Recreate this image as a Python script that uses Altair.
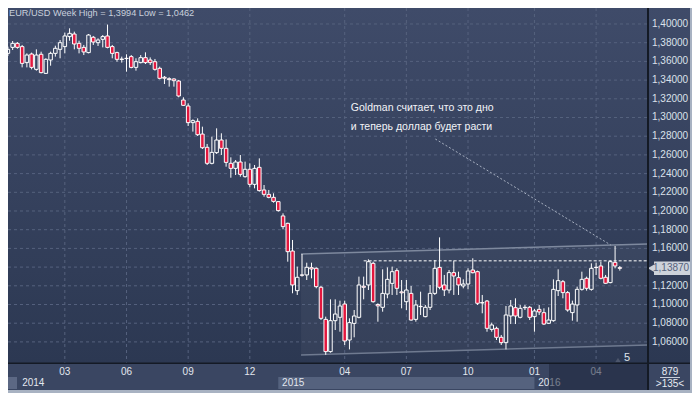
import altair as alt
import pandas as pd

# ---------------- data ----------------
bar_index = list(range(130))
open_ = [1.3686, 1.3750, 1.3793, 1.3758, 1.3587, 1.3679, 1.3515, 1.3676, 1.3472, 1.3615,
         1.3686, 1.3729, 1.3758, 1.3865, 1.3893, 1.3793, 1.3750, 1.3694, 1.3858, 1.3800,
         1.3836, 1.3872, 1.3758, 1.3694, 1.3625, 1.3633, 1.3651, 1.3536, 1.3587, 1.3640,
         1.3615, 1.3597, 1.3526, 1.3430, 1.3415, 1.3412, 1.3390, 1.3187, 1.3123, 1.2945,
         1.2959, 1.2823, 1.2681, 1.2510, 1.2624, 1.2759, 1.2670, 1.2510, 1.2456, 1.2524,
         1.2367, 1.2446, 1.2285, 1.2467, 1.2225, 1.2178, 1.2146, 1.2100, 1.1947, 1.1868,
         1.1572, 1.1148, 1.1316, 1.1316, 1.1394, 1.1387, 1.1184, 1.0841, 1.0496, 1.0827,
         1.0863, 1.1005, 1.0620, 1.0798, 1.0863, 1.1195, 1.1209, 1.1440, 1.1000, 1.0970,
         1.1112, 1.1226, 1.1362, 1.1135, 1.1030, 1.1119, 1.0841, 1.0980, 1.0870, 1.0970,
         1.1119, 1.1397, 1.1209, 1.1155, 1.1341, 1.1287, 1.1198, 1.1219, 1.1369, 1.1351,
         1.1020, 1.1037, 1.0734, 1.0745, 1.0649, 1.0592, 1.0877, 1.0966, 1.0863, 1.0970,
         1.0970, 1.0870, 1.0948, 1.0913, 1.0799, 1.0827, 1.1148, 1.1244, 1.1127, 1.0913,
         1.0995, 1.1162, 1.1280, 1.1162, 1.1398, 1.1412, 1.1291, 1.1234, 1.1451, 1.1394]
high = [1.3758, 1.3818, 1.3807, 1.3776, 1.3686, 1.3694, 1.3729, 1.3704, 1.3633, 1.3704,
        1.3768, 1.3829, 1.3907, 1.3954, 1.3918, 1.3821, 1.3776, 1.3893, 1.3872, 1.3847,
        1.3882, 1.3994, 1.3776, 1.3704, 1.3651, 1.3676, 1.3668, 1.3633, 1.3668, 1.3697,
        1.3643, 1.3626, 1.3544, 1.3444, 1.3430, 1.3419, 1.3401, 1.3216, 1.3152, 1.2980,
        1.2991, 1.2902, 1.2717, 1.2795, 1.2884, 1.2831, 1.2766, 1.2574, 1.2545, 1.2599,
        1.2528, 1.2510, 1.2492, 1.2563, 1.2278, 1.2225, 1.2189, 1.2107, 1.1975, 1.1875,
        1.1690, 1.1405, 1.1540, 1.1447, 1.1447, 1.1397, 1.1198, 1.0870, 1.1055, 1.1055,
        1.1041, 1.1041, 1.0852, 1.0941, 1.1298, 1.1298, 1.1483, 1.1458, 1.1013, 1.1376,
        1.1397, 1.1405, 1.1387, 1.1262, 1.1262, 1.1198, 1.1048, 1.1137, 1.0995, 1.1209,
        1.1476, 1.1718, 1.1316, 1.1369, 1.1469, 1.1351, 1.1269, 1.1387, 1.1494, 1.1362,
        1.1102, 1.1048, 1.0806, 1.0763, 1.0674, 1.0984, 1.1048, 1.1066, 1.0995, 1.0995,
        1.0984, 1.0952, 1.0995, 1.0959, 1.0970, 1.1269, 1.1376, 1.1262, 1.1144, 1.1041,
        1.1191, 1.1351, 1.1298, 1.1440, 1.1447, 1.1458, 1.1316, 1.1469, 1.1626, 1.1412]
low = [1.3658, 1.3722, 1.3736, 1.3536, 1.3536, 1.3515, 1.3501, 1.3472, 1.3465, 1.3554,
       1.3651, 1.3633, 1.3686, 1.3821, 1.3729, 1.3686, 1.3668, 1.3686, 1.3776, 1.3765,
       1.3750, 1.3740, 1.3633, 1.3597, 1.3587, 1.3490, 1.3526, 1.3501, 1.3579, 1.3572,
       1.3561, 1.3501, 1.3408, 1.3358, 1.3330, 1.3330, 1.3216, 1.3123, 1.2909, 1.2849,
       1.2802, 1.2663, 1.2492, 1.2499, 1.2610, 1.2599, 1.2474, 1.2356, 1.2385, 1.2367,
       1.2357, 1.2253, 1.2242, 1.2207, 1.2153, 1.2136, 1.2089, 1.1993, 1.1804, 1.1458,
       1.1120, 1.1102, 1.1298, 1.1262, 1.1280, 1.1173, 1.0834, 1.0462, 1.0485, 1.0727,
       1.0709, 1.0567, 1.0520, 1.0649, 1.0852, 1.1055, 1.1155, 1.1020, 1.0816, 1.0923,
       1.1066, 1.1102, 1.1102, 1.0959, 1.0941, 1.0827, 1.0816, 1.0888, 1.0863, 1.0941,
       1.1102, 1.1163, 1.1091, 1.1119, 1.1102, 1.1102, 1.1173, 1.1162, 1.1333, 1.0995,
       1.0906, 1.0709, 1.0709, 1.0620, 1.0567, 1.0520, 1.0791, 1.0791, 1.0852, 1.0941,
       1.0834, 1.0709, 1.0888, 1.0781, 1.0791, 1.0816, 1.1091, 1.1066, 1.0923, 1.0827,
       1.0816, 1.1148, 1.1148, 1.1148, 1.1316, 1.1269, 1.1219, 1.1227, 1.1387, 1.1362]
close = [1.3729, 1.3793, 1.3750, 1.3579, 1.3668, 1.3536, 1.3668, 1.3480, 1.3622, 1.3686,
         1.3740, 1.3800, 1.3872, 1.3900, 1.3786, 1.3740, 1.3701, 1.3882, 1.3807, 1.3829,
         1.3865, 1.3750, 1.3686, 1.3622, 1.3620, 1.3630, 1.3536, 1.3597, 1.3640, 1.3587,
         1.3587, 1.3515, 1.3419, 1.3420, 1.3405, 1.3394, 1.3230, 1.3130, 1.2945, 1.2966,
         1.2816, 1.2677, 1.2510, 1.2627, 1.2759, 1.2670, 1.2520, 1.2456, 1.2524, 1.2392,
         1.2446, 1.2285, 1.2456, 1.2218, 1.2178, 1.2146, 1.2103, 1.2004, 1.1833, 1.1565,
         1.1209, 1.1291, 1.1313, 1.1398, 1.1380, 1.1191, 1.0852, 1.0496, 1.0827, 1.0898,
         1.0984, 1.0610, 1.0806, 1.0877, 1.1209, 1.1184, 1.1458, 1.1030, 1.0985, 1.1119,
         1.1269, 1.1351, 1.1173, 1.1125, 1.1155, 1.0834, 1.0995, 1.0977, 1.0970, 1.1119,
         1.1387, 1.1184, 1.1155, 1.1341, 1.1305, 1.1209, 1.1219, 1.1358, 1.1340, 1.1013,
         1.1017, 1.0745, 1.0781, 1.0649, 1.0592, 1.0888, 1.0984, 1.0877, 1.0959, 1.0966,
         1.0863, 1.0931, 1.0920, 1.0791, 1.0834, 1.1162, 1.1255, 1.1127, 1.0941, 1.1005,
         1.1162, 1.1269, 1.1173, 1.1387, 1.1395, 1.1280, 1.1227, 1.1458, 1.1412, 1.1387]

price_ticks = [1.06, 1.08, 1.10, 1.12, 1.14, 1.16, 1.18, 1.20, 1.22, 1.24, 1.26,
               1.28, 1.30, 1.32, 1.34, 1.36, 1.38, 1.40]
label_ticks = [t for t in price_ticks if abs(t - 1.14) > 1e-9]
month_pos = [12, 25, 38, 51, 71, 84, 97, 111, 124]
month_lab = ["03", "06", "09", "12", "04", "07", "10", "01", "04"]
year_pos = [3.0, 57.8, 111.8]
year_lab = ["2014", "2015", "2016"]
year_thumb = [57, 111]
channel_k = [61.8, 134.9]
channel_hi = [1.1540, 1.1647]
channel_lo = [1.0460, 1.0567]
resistance = 1.1467
resistance_k = [75.0, 134.9]
pointer_k = [90.1, 127.1]
pointer_p = [1.2770, 1.1636]
note_lines = ["Goldman считает, что это дно", "и теперь доллар будет расти"]
note_k = [72.3, 72.3]
note_p = [1.3102, 1.2898]
last_price = 1.1387
title_text = "EUR/USD Week High = 1,3994 Low = 1,0462"
counter_top = "879"
counter_bottom = ">135<"
marker_text = "5"

# ---------------- layout ----------------
W, H = 640, 355          # plot area
RW = 44                  # right price panel
TW = W + RW              # total width (fits the 684px page body)
FONT = "Liberation Sans"
XS = alt.Scale(domain=[0.02, 134.94], nice=False, zero=False)
YS = alt.Scale(domain=[1.03743, 1.41711], nice=False, zero=False)


def X(f):
    return alt.X(f, type="quantitative", scale=XS, axis=None)


def Y(f):
    return alt.Y(f, type="quantitative", scale=YS, axis=None)


one = pd.DataFrame({"z": [0]})


def box(x1, x2, y1, y2, **kw):
    return alt.Chart(one).mark_rect(**kw).encode(
        x=alt.value(x1), x2=alt.value(x2), y=alt.value(y1), y2=alt.value(y2))


def label(txt, x, y, **kw):
    return alt.Chart(one).mark_text(text=txt, font=FONT, **kw).encode(
        x=alt.value(x), y=alt.value(y))


bg = box(0, TW, 0, H, fill=alt.Gradient(
    gradient="linear",
    stops=[alt.GradientStop(color="#3f4b69", offset=0),
           alt.GradientStop(color="#2c3852", offset=1)],
    x1=0, x2=0, y1=0, y2=1))
bottom_panel = box(0, TW, H, 385, fill="#3a4662")

chan = pd.DataFrame({"k": channel_k, "hi": channel_hi, "lo": channel_lo})
chan_fill = alt.Chart(chan).mark_area(fill="white", fillOpacity=0.045).encode(
    x=X("k"), y=Y("hi"), y2="lo")
chan_hi = alt.Chart(chan).mark_line(color="#7e899e", strokeWidth=1.5).encode(x=X("k"), y=Y("hi"))
chan_lo = alt.Chart(chan).mark_line(color="#6f7a90", strokeWidth=1.5).encode(x=X("k"), y=Y("lo"))

vgrid = alt.Chart(pd.DataFrame({"k": month_pos})).mark_rule(
    color="#56627e", strokeDash=[3, 3], strokeWidth=1).encode(
    x=X("k"), y=alt.value(0), y2=alt.value(H))

hgrid = alt.Chart(pd.DataFrame({"p": price_ticks})).mark_rule(
    color="#56627e", strokeDash=[3, 3], strokeWidth=1).encode(
    y=Y("p"), x=alt.value(0), x2=alt.value(W))

ylabels = alt.Chart(pd.DataFrame({"p": label_ticks})).transform_calculate(
    t="replace(format(datum.p, '.5f'), '.', ',')").mark_text(
    align="left", baseline="middle", color="#dbe1ea", font=FONT, fontSize=10).encode(
    x=alt.value(W + 4), y=Y("p"), text="t:N")

res = alt.Chart(pd.DataFrame({"k1": [resistance_k[0]], "k2": [resistance_k[1]], "p": [resistance]})).mark_rule(
    color="white", strokeDash=[3, 2], strokeWidth=1).encode(x=X("k1"), x2="k2", y=Y("p"))

pointer = alt.Chart(pd.DataFrame({"k": pointer_k, "p": pointer_p})).mark_line(
    color="#a6afc0", strokeDash=[2, 2], strokeWidth=1).encode(x=X("k"), y=Y("p"))

cdf = pd.DataFrame({"k": bar_index, "o": open_, "h": high, "l": low, "c": close})
base = alt.Chart(cdf).transform_calculate(
    top="max(datum.o, datum.c)", bot="min(datum.o, datum.c)",
    x1="datum.k - 0.37", x2="datum.k + 0.37")
wick_up = base.mark_rule(color="white", strokeWidth=1, clip=True).encode(x=X("k"), y=Y("h"), y2="top")
wick_dn = base.mark_rule(color="white", strokeWidth=1, clip=True).encode(x=X("k"), y=Y("bot"), y2="l")
bodies = base.mark_rect(stroke="white", strokeWidth=1, clip=True).encode(
    x=X("x1"), x2="x2", y=Y("o"), y2="c",
    fill=alt.condition("datum.c < datum.o", alt.value("#e3173e"), alt.value("transparent")))

notes = alt.Chart(pd.DataFrame({"k": note_k, "p": note_p, "t": note_lines})).mark_text(
    align="left", baseline="middle", color="#f2f4f8", font=FONT, fontSize=10.5).encode(
    x=X("k"), y=Y("p"), text="t")

title = label(title_text, 1, 5, align="left", baseline="middle", color="#c9d0dc", fontSize=9.2)

thumb = alt.Chart(pd.DataFrame({"a": [year_thumb[0]], "b": [year_thumb[1]]})).mark_rect(fill="#55627e").encode(
    x=X("a"), x2="b", y=alt.value(369), y2=alt.value(381))
small_sq = box(0, 9, 369, 381, fill="#5c6884")
months = alt.Chart(pd.DataFrame({"k": month_pos, "t": month_lab})).mark_text(
    align="center", baseline="middle", color="#e2e7ef", font=FONT, fontSize=10).encode(
    x=X("k"), y=alt.value(364), text="t")
years = alt.Chart(pd.DataFrame({"k": year_pos, "t": year_lab})).mark_text(
    align="left", baseline="middle", color="#e2e7ef", font=FONT, fontSize=10).encode(
    x=X("k"), y=alt.value(375), text="t")
overlay = box(541, W - 1, 356, 383, fill="#1e273d", opacity=0.55)

pdf = pd.DataFrame({"p": [last_price]})
price_box = alt.Chart(pdf).transform_calculate(
    a="datum.p + 0.0072", b="datum.p - 0.0072").mark_rect(fill="#cdd2da").encode(
    x=alt.value(W + 6), x2=alt.value(TW), y=Y("a"), y2="b")
price_arrow = alt.Chart(pdf).mark_point(shape="triangle-left", filled=True, color="#cdd2da",
                                         size=55, opacity=1).encode(x=alt.value(W + 3), y=Y("p"))
price_txt = alt.Chart(pdf).transform_calculate(
    t="replace(format(datum.p, '.5f'), '.', ',')").mark_text(
    align="left", baseline="middle", color="#56627c", font=FONT, fontSize=10).encode(
    x=alt.value(W + 5), y=Y("p"), text="t:N")

marker_tri = alt.Chart(one).mark_point(shape="triangle-up", filled=True, color="#4c566c",
                                       size=30, opacity=1).encode(x=alt.value(610), y=alt.value(352))
marker = label(marker_text, 619, 350, align="center", baseline="middle", color="#dfe4ec", fontSize=11)

sep_h = box(0, TW, H - 0.5, H + 1, fill="#141a25")
sep_v = box(W - 1, W + 1, 0, 385, fill="#141a25")
cnt1 = label(counter_top, W + 22, 364, align="center", baseline="middle", color="#e6eaf1", fontSize=10)
cnt_line = box(W + 12, W + 32, 369, 370, fill="#c7cdd8")
cnt2 = label(counter_bottom, W + 22, 376, align="center", baseline="middle", color="#e6eaf1", fontSize=10)
frame_r = box(TW - 2, TW, 0, 385, fill="#a8b2c2")
frame_b = box(0, TW, 382, 385, fill="#a8b2c2")

chart = alt.layer(
    bg, bottom_panel, chan_fill, vgrid, hgrid, chan_hi, chan_lo, res, pointer,
    wick_up, wick_dn, bodies, notes, title, ylabels,
    thumb, small_sq, months, years, overlay,
    price_box, price_arrow, price_txt, marker_tri, marker,
    sep_h, sep_v, cnt1, cnt_line, cnt2, frame_r, frame_b,
).properties(
    width=W, height=H,
    autosize=alt.AutoSizeParams(type="none"),
    padding={"left": 0, "top": 0, "right": RW, "bottom": 30},
    background="#3a4662",
).configure_view(stroke=None)

chart.save("out.html", embed_options={"renderer": "svg", "actions": False})
